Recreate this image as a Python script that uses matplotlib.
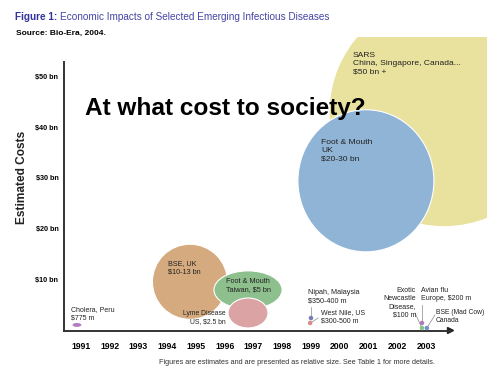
import matplotlib
matplotlib.use("Agg")
import matplotlib.pyplot as plt
from matplotlib.patches import Ellipse, Rectangle
from matplotlib.lines import Line2D

plt.rcParams['font.family'] = ['Liberation Sans Narrow', 'Liberation Sans', 'DejaVu Sans']

# bubbles: centre year, centre value (bn), width (years), height (bn)
bub_names = ["Cholera, Peru", "BSE, UK", "Foot & Mouth Taiwan", "Lyme Disease", "Foot & Mouth UK", "SARS"]
bub_year = [1990.86, 1994.79, 1996.81, 1996.81, 2000.91, 2003.63]
bub_cost = [1.0, 9.5, 7.9, 3.35, 29.4, 43.0]
bub_w = [0.35, 2.61, 2.37, 1.39, 4.73, 8.0]
bub_h = [1.0, 14.8, 7.5, 5.9, 28.0, 45.3]
bub_col = ["#b47cc0", "#d4aa7e", "#8ec08e", "#dba3a3", "#8fb4d6", "#e9e29e"]

# small outbreaks drawn as dots
dot_names = ["Nipah", "West Nile", "Avian flu", "Newcastle", "BSE Canada"]
dot_year = [1999.0, 1998.97, 2002.86, 2002.86, 2003.03]
dot_cost = [2.36, 1.38, 1.38, 0.39, 0.39]
dot_col = ["#7b7bbb", "#d98a8a", "#b478c4", "#86c486", "#7591cc"]

years = list(range(1991, 2004))
yticks = [10, 20, 30, 40, 50]
ylabels = ["$10 bn", "$20 bn", "$30 bn", "$40 bn", "$50 bn"]

W, H = 500, 375
fig = plt.figure(figsize=(5, 3.75), dpi=100)


def P(x, y):
    # pixel position -> figure fraction
    return x / W, 1 - y / H


ax = fig.add_axes([64 / W, (H - 331) / H, (450 - 64) / W, (331 - 62) / H])
ax.set_xlim(1990.409, 2003.835)
ax.set_ylim(-0.197, 52.81)
for s in ["top", "right"]:
    ax.spines[s].set_visible(False)
for s in ["left", "bottom"]:
    ax.spines[s].set_color("#333333")
    ax.spines[s].set_linewidth(1.4)
ax.set_xticks(years)
ax.set_xticklabels([str(y) for y in years], fontweight="bold", fontsize=6.2)
ax.set_yticks(yticks)
ax.set_yticklabels(ylabels, fontweight="bold", fontsize=5.2)
ax.tick_params(axis="x", length=0, pad=8)
ax.tick_params(axis="y", length=0, pad=4)
ax.plot(1, 0, ">", color="#222222", ms=5, transform=ax.get_yaxis_transform(), clip_on=False)
ax.plot(0, 1, "^", color="#222222", ms=5, transform=ax.get_xaxis_transform(), clip_on=False)

for i in range(len(bub_names)):
    e = Ellipse((bub_year[i], bub_cost[i]), bub_w[i], bub_h[i], facecolor=bub_col[i],
                edgecolor="white", linewidth=0.8, zorder=1 + i)
    ax.add_patch(e)
    if bub_names[i] == "SARS":
        e.set_clip_box(fig.bbox)
        clip = Rectangle((1990, -5), 2005.12 - 1990, 57.7 + 5, transform=ax.transData)
        e.set_clip_path(clip)
        e.set_zorder(0.5)

ax.scatter(dot_year, dot_cost, s=5, c=dot_col, zorder=10, clip_on=False)

# leader lines (pixels)
for (x0, y0, x1, y1) in [(311, 307, 311, 316), (318, 318, 312, 322), (422, 305, 422, 321),
                         (415, 313, 421, 326), (435, 315, 428, 326)]:
    a, b = P(x0, y0)
    c, d = P(x1, y1)
    fig.add_artist(Line2D([a, c], [b, d], color="#888888", lw=0.5))

labels = [
    (71, 306, "Cholera, Peru\n$775 m", "left", 5.0),
    (168, 260, "BSE, UK\n$10-13 bn", "left", 5.2),
    (248, 278, "Foot & Mouth\nTaiwan, $5 bn", "center", 5.3),
    (226, 310, "Lyme Disease\nUS, $2.5 bn", "right", 4.9),
    (321, 139, "Foot & Mouth\nUK\n$20-30 bn", "left", 6.1),
    (353, 52, "SARS\nChina, Singapore, Canada...\n$50 bn +", "left", 6.1),
    (308, 289, "Nipah, Malaysia\n$350-400 m", "left", 5.2),
    (321, 309, "West Nile, US\n$300-500 m", "left", 5.0),
    (416, 287, "Exotic\nNewcastle\nDisease,\n$100 m", "right", 5.0),
    (421, 287, "Avian flu\nEurope, $200 m", "left", 5.0),
    (436, 309, "BSE (Mad Cow)\nCanada", "left", 4.9),
]
for x, y, t, ha, fs in labels:
    fx, fy = P(x, y)
    fig.text(fx, fy, t, ha=ha, fontsize=fs, color="#222222", va="top",
             linespacing=1.25, zorder=20)

fx, fy = P(15, 17)
t1 = fig.text(fx, fy, "Figure 1:", fontsize=7.2, fontweight="bold", color="#33339a", va="center")
fig.canvas.draw()
bb = t1.get_window_extent()
fig.text((bb.x1 + 3) / W, fy, "Economic Impacts of Selected Emerging Infectious Diseases",
         fontsize=7.2, color="#4545a5", va="center")

fx, fy = P(16, 33)
fig.text(fx, fy, "Source: Bio-Era, 2004.", fontsize=6.0, fontweight="bold",
         family=["Liberation Sans", "DejaVu Sans"], va="center")

fx, fy = P(22, 177)
fig.text(fx, fy, "Estimated Costs", fontsize=8.6, fontweight="bold", rotation=90,
         ha="center", va="center", color="#222222")

fx, fy = P(85, 108)
fig.text(fx, fy, "At what cost to society?", fontsize=17.6, fontweight="bold",
         family=["Liberation Sans", "DejaVu Sans"], va="center", zorder=30)

fx, fy = P(297, 362)
fig.text(fx, fy, "Figures are estimates and are presented as relative size. See Table 1 for more details.",
         fontsize=5.2, ha="center", va="center", color="#333333")

fig.savefig("out.png", dpi=100)
